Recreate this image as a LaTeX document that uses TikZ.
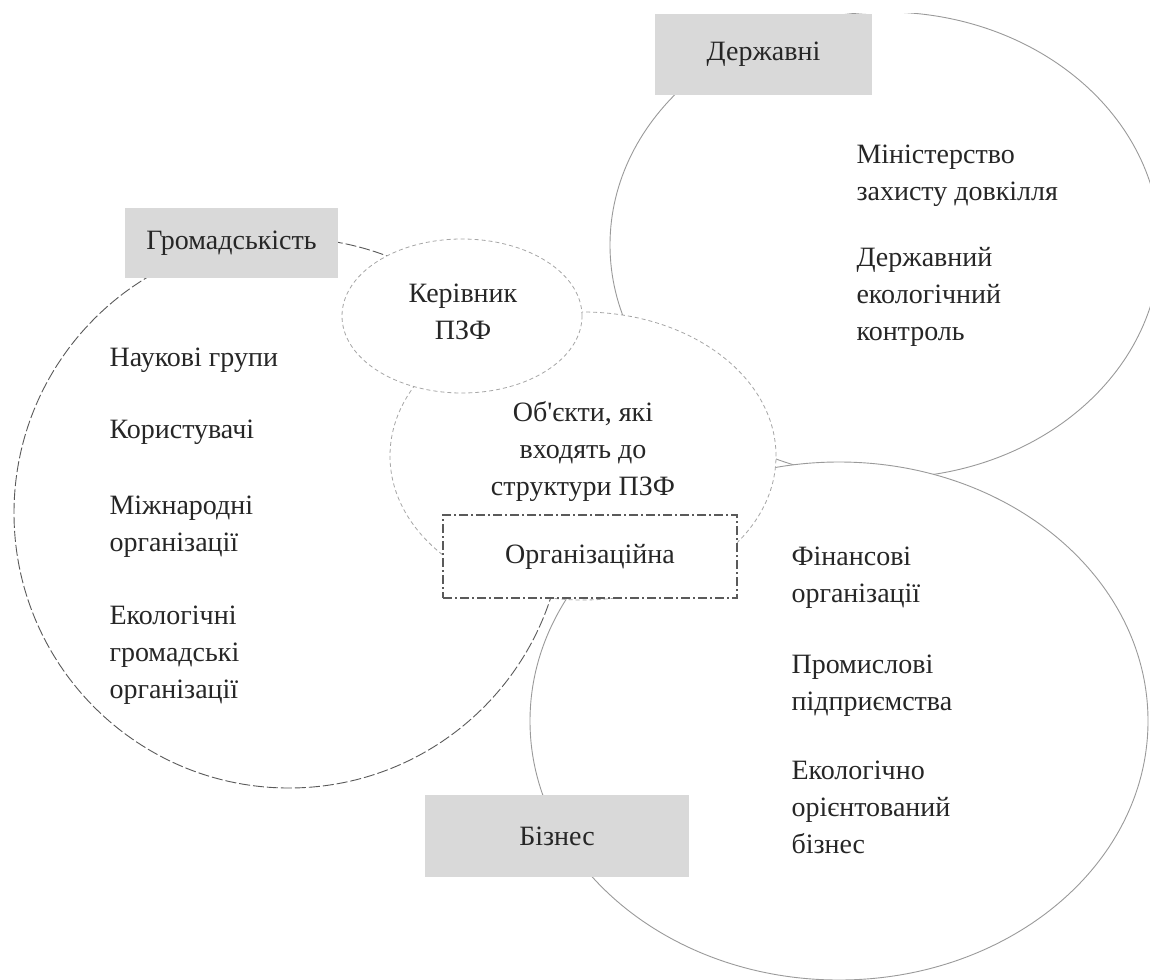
\documentclass[tikz,border=0pt]{standalone}
\usepackage{fontspec}
\setmainfont{Liberation Serif}
\usetikzlibrary{shapes.geometric}
\definecolor{boxgray}{HTML}{D9D9D9}
\definecolor{linegray}{HTML}{9A9A9A}
\definecolor{dashgray}{HTML}{5A5A5A}
\tikzset{
  sfera/.style={ellipse, draw=linegray, fill=white, line width=0.9pt, inner sep=0pt},
  tsentr/.style={ellipse, draw=black!35, fill=white, dash pattern=on 4pt off 3pt, line width=0.8pt, inner sep=0pt},
  grupa/.style={fill=boxgray, inner sep=0pt, font=\fontsize{28}{37}\selectfont, text=black!85},
  napys/.style={align=center, font=\fontsize{28}{37}\selectfont, text=black!85},
  perelik/.style={anchor=west, align=left, font=\fontsize{28}{37}\selectfont, text=black!85}
}
\begin{document}
\begin{tikzpicture}[x=1pt,y=-1pt]
\useasboundingbox (0,0) rectangle (1150,979);
\clip (0,14) rectangle (1150,979);
% Громадськість
\node[sfera, draw=dashgray, dash pattern=on 11pt off 3pt, minimum width=550pt, minimum height=550pt] (hromada) at (289,513) {};
% Державні
\node[sfera, minimum width=550pt, minimum height=466pt] (derzh) at (885,245) {};
% Бізнес
\node[sfera, minimum width=618pt, minimum height=518pt] (biznes) at (839,721) {};
% ПЗФ
\node[tsentr, minimum width=386pt, minimum height=288pt] (obiekty) at (583,456) {};
\node[tsentr, minimum width=240pt, minimum height=154pt] (kerivnyk) at (462,316) {};
\node[napys] (kerivnykText) at (463,312) {Керівник\\ПЗФ};
\node[napys] (obiektyText) at (583,451) {Об\textquotesingle{}єкти, які\\входять до\\структури ПЗФ};
\node[napys, draw=dashgray, fill=white, line width=1.2pt, dash pattern=on 9pt off 3pt on 2pt off 3pt,
      minimum width=294pt, minimum height=83pt, inner sep=0pt] (orhan) at (590,556.5) {Організаційна};
% Заголовки груп
\node[grupa, minimum width=213pt, minimum height=70pt] (hromadaLabel) at (231.5,243) {Громадськість};
\node[grupa, minimum width=217pt, minimum height=81pt] (derzhLabel) at (763.5,54.5) {Державні};
\node[grupa, minimum width=264pt, minimum height=82pt] (biznesLabel) at (557,836) {Бізнес};
% Переліки
\node[perelik] (nauka) at (106,360) {Наукові групи};
\node[perelik] (korystuvachi) at (106,432) {Користувачі};
\node[perelik] (mizhnar) at (106,527) {Міжнародні\\організації};
\node[perelik] (ekohrom) at (106,655) {Екологічні\\громадські\\організації};
\node[perelik] (ministerstvo) at (853,176) {Міністерство\\захисту довкілля};
\node[perelik] (kontrol) at (853,297) {Державний\\екологічний\\контроль};
\node[perelik] (finansy) at (788,578) {Фінансові\\організації};
\node[perelik] (promysl) at (788,686) {Промислові\\підприємства};
\node[perelik] (ekobiz) at (788,807) {Екологічно\\орієнтований\\бізнес};
\end{tikzpicture}
\end{document}
